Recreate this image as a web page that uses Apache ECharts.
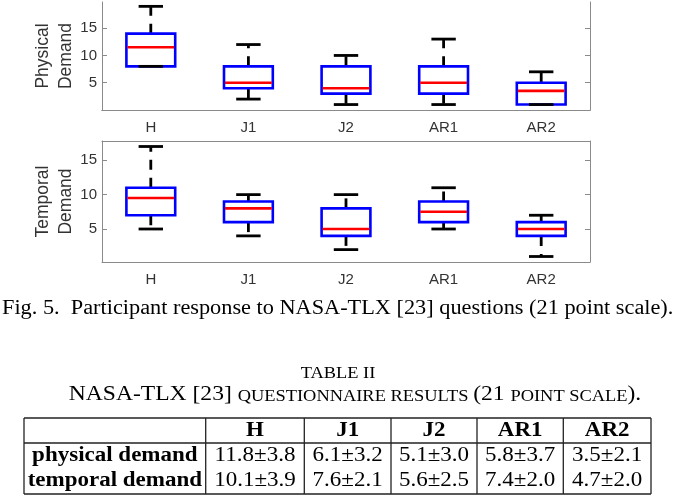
<!DOCTYPE html>
<html>
<head>
<meta charset="utf-8">
<script src="https://cdn.jsdelivr.net/npm/echarts@6/dist/echarts.min.js"></script>
<style>
html,body{margin:0;padding:0;background:#fff;}
#chart{width:678px;height:496px;}
</style>
</head>
<body>
<div id="chart"></div>
<script>
// ---- data ----
const categories = ['H', 'J1', 'J2', 'AR1', 'AR2'];

const physicalMin    = [8, 2, 1, 1, 1];
const physicalQ1     = [8, 4, 3, 3, 1];
const physicalMedian = [11.5, 5, 4, 5, 3.5];
const physicalQ3     = [14, 8, 8, 8, 5];
const physicalMax    = [19, 12, 10, 13, 7];

const temporalMin    = [5, 4, 2, 5, 1];
const temporalQ1     = [7, 6, 4, 6, 4];
const temporalMedian = [9.5, 8, 5, 7.5, 5];
const temporalQ3     = [11, 9, 8, 9, 6];
const temporalMax    = [17, 10, 10, 11, 7];

const yTickValues = [5, 10, 15];

const tableRowLabels = ['physical demand', 'temporal demand'];
const physicalMean = ['11.8', '6.1', '5.1', '5.8', '3.5'];
const physicalSd   = ['3.8', '3.2', '3.0', '3.7', '2.1'];
const temporalMean = ['10.1', '7.6', '5.6', '7.4', '4.7'];
const temporalSd   = ['3.9', '2.1', '2.5', '2.0', '2.0'];

const captionText = 'Fig. 5.  Participant response to NASA-TLX [23] questions (21 point scale).';
const tableTitle = 'TABLE II';

// ---- helpers ----
function boxData(mn, q1, md, q3, mx) {
  return categories.map((c, i) => [i, mn[i], q1[i], md[i], q3[i], mx[i]]);
}

function renderBox(params, api) {
  const i = api.value(0);
  const lo = api.coord([i, api.value(1)]);
  const q1 = api.coord([i, api.value(2)]);
  const md = api.coord([i, api.value(3)]);
  const q3 = api.coord([i, api.value(4)]);
  const hi = api.coord([i, api.value(5)]);
  const band = api.size([1, 0])[0];
  const bw = band * 0.5, cw = band * 0.25;
  const cx = lo[0];
  const children = [];
  const dash = {stroke: '#000', lineWidth: 2.8, lineDash: [10, 8], fill: null};
  if (hi[1] < q3[1]) children.push({type: 'line', shape: {x1: cx, y1: q3[1], x2: cx, y2: hi[1]}, style: dash});
  if (lo[1] > q1[1]) children.push({type: 'line', shape: {x1: cx, y1: q1[1], x2: cx, y2: lo[1]}, style: dash});
  children.push({type: 'rect', shape: {x: cx - bw / 2, y: q3[1], width: bw, height: q1[1] - q3[1]},
    style: {fill: null, stroke: '#0000ff', lineWidth: 2.6}});
  const cap = {stroke: '#000', lineWidth: 2.8};
  children.push({type: 'line', shape: {x1: cx - cw / 2, y1: hi[1], x2: cx + cw / 2, y2: hi[1]}, style: cap});
  children.push({type: 'line', shape: {x1: cx - cw / 2, y1: lo[1], x2: cx + cw / 2, y2: lo[1]}, style: cap});
  children.push({type: 'line', shape: {x1: cx - bw / 2 + 1, y1: md[1], x2: cx + bw / 2 - 1, y2: md[1]},
    style: {stroke: '#ff0000', lineWidth: 2.6}});
  return {type: 'group', children: children};
}

const axisGray = '#8a8a8a';
const textGray = '#333333';
const sansFont = 'Liberation Sans';
const serifFont = 'Liberation Serif';

function xAxes(gi) {
  return [
    {gridIndex: gi, type: 'category', data: categories, position: 'bottom',
     axisLine: {lineStyle: {color: axisGray, width: 1}},
     axisTick: {inside: true, alignWithLabel: true, length: 5, lineStyle: {color: axisGray}},
     axisLabel: {margin: 10, fontSize: 15, fontFamily: sansFont, color: textGray}},
    {gridIndex: gi, type: 'category', data: categories, position: 'top',
     axisLine: {lineStyle: {color: axisGray, width: 1}},
     axisTick: {inside: true, alignWithLabel: true, length: 5, lineStyle: {color: axisGray}},
     axisLabel: {show: false}}
  ];
}
function yAxes(gi, mn, mx, name) {
  return [
    {gridIndex: gi, type: 'value', min: mn, max: mx, position: 'left',
     name: name, nameLocation: 'middle', nameRotate: 90, nameGap: 24, nameMoveOverlap: false,
     nameTextStyle: {fontSize: 17.5, fontFamily: sansFont, color: textGray, lineHeight: 23},
     axisLine: {show: true, lineStyle: {color: axisGray, width: 1}},
     axisTick: {show: true, inside: true, length: 5, customValues: yTickValues, lineStyle: {color: axisGray}},
     axisLabel: {customValues: yTickValues, margin: 5, fontSize: 15, fontFamily: sansFont, color: textGray},
     splitLine: {show: false}},
    {gridIndex: gi, type: 'value', min: mn, max: mx, position: 'right',
     axisLine: {show: true, lineStyle: {color: axisGray, width: 1}},
     axisTick: {show: true, inside: true, length: 5, customValues: yTickValues, lineStyle: {color: axisGray}},
     axisLabel: {show: false}, splitLine: {show: false}}
  ];
}

// ---- caption & table graphics ----
const colEdges = [24, 205.7, 304.3, 391, 477, 563.3, 651];
const rowEdges = [418, 443, 494];
const headerY = 430.5, rowY = [455.5, 480.5];
const lineCol = '#222';
const stretch = 1.15;
const graphics = [];
graphics.push({type: 'text', x: 2, y: 309, scaleX: 1.115,
  style: {text: captionText, font: '20px "' + serifFont + '"', fill: '#000', align: 'left', verticalAlign: 'middle'}});
graphics.push({type: 'text', x: 338, y: 373, scaleX: 1.05,
  style: {text: tableTitle, font: '17.5px "' + serifFont + '"', fill: '#000', align: 'center', verticalAlign: 'middle'}});
graphics.push({type: 'text', x: 355, y: 394, scaleX: stretch,
  style: {text: '{a|NASA-TLX [23] }{b|QUESTIONNAIRE RESULTS }{a|(21 }{b|POINT SCALE}{a|).}',
    align: 'center', verticalAlign: 'middle',
    rich: {a: {fontFamily: serifFont, fontSize: 20.5, fill: '#000', verticalAlign: 'bottom', lineHeight: 22},
           b: {fontFamily: serifFont, fontSize: 16, fill: '#000', verticalAlign: 'bottom', lineHeight: 22}}}});
rowEdges.forEach(y => graphics.push({type: 'line', shape: {x1: colEdges[0], y1: y, x2: colEdges[colEdges.length - 1], y2: y},
  style: {stroke: lineCol, lineWidth: 1.3}}));
colEdges.forEach(x => graphics.push({type: 'line', shape: {x1: x, y1: rowEdges[0], x2: x, y2: rowEdges[rowEdges.length - 1]},
  style: {stroke: lineCol, lineWidth: 1.3}}));
function cellText(x, y, t, bold) {
  graphics.push({type: 'text', x: x, y: y, scaleX: stretch,
    style: {text: t, font: (bold ? 'bold ' : '') + '20px "' + serifFont + '"', fill: '#000', align: 'center', verticalAlign: 'middle'}});
}
categories.forEach((c, i) => cellText((colEdges[i + 1] + colEdges[i + 2]) / 2, headerY, c, true));
tableRowLabels.forEach((l, r) => cellText((colEdges[0] + colEdges[1]) / 2, rowY[r], l, true));
categories.forEach((c, i) => {
  const cx = (colEdges[i + 1] + colEdges[i + 2]) / 2;
  cellText(cx, rowY[0], physicalMean[i] + '\u00b1' + physicalSd[i], false);
  cellText(cx, rowY[1], temporalMean[i] + '\u00b1' + temporalSd[i], false);
});

const chart = echarts.init(document.getElementById('chart'), null, {renderer: 'canvas'});
chart.setOption({
  animation: false,
  backgroundColor: '#fff',
  grid: [
    {left: 102, top: 2, width: 488, height: 108},
    {left: 102, top: 141, width: 488, height: 121}
  ],
  xAxis: [...xAxes(0), ...xAxes(1)],
  yAxis: [...yAxes(0, 0, 19.8, 'Physical\nDemand'), ...yAxes(1, 0.2, 17.8, 'Temporal\nDemand')],
  series: [
    {type: 'custom', xAxisIndex: 0, yAxisIndex: 0, renderItem: renderBox,
     data: boxData(physicalMin, physicalQ1, physicalMedian, physicalQ3, physicalMax), clip: false},
    {type: 'custom', xAxisIndex: 2, yAxisIndex: 2, renderItem: renderBox,
     data: boxData(temporalMin, temporalQ1, temporalMedian, temporalQ3, temporalMax), clip: false}
  ],
  graphic: graphics
});
</script>
</body>
</html>
